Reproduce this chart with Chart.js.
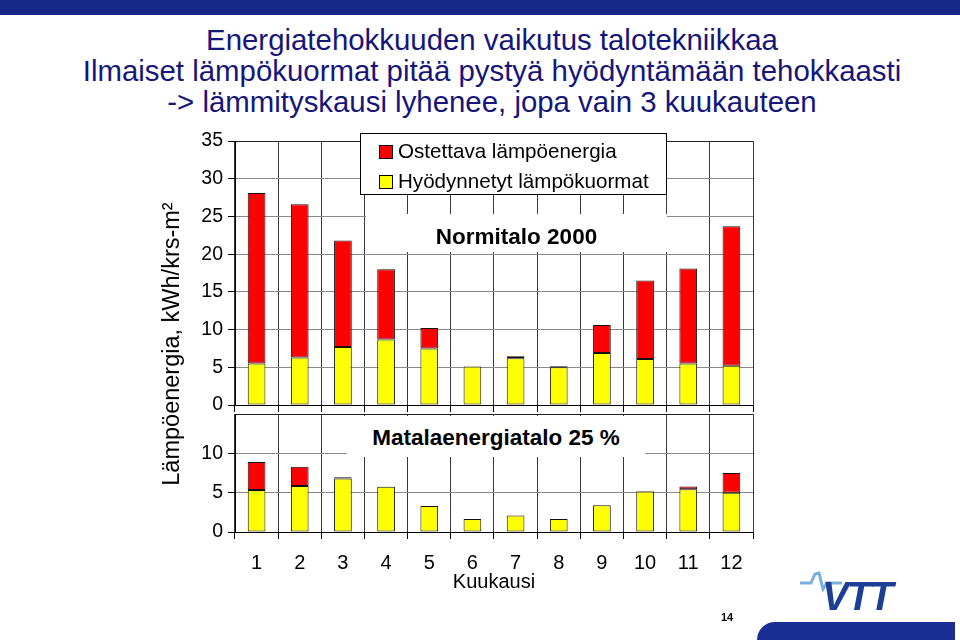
<!DOCTYPE html>
<html lang="fi">
<head>
<meta charset="utf-8">
<title>Energiatehokkuuden vaikutus talotekniikkaa</title>
<script src="https://cdn.jsdelivr.net/npm/chart.js@4.4.1/dist/chart.umd.min.js"></script>
<style>
  html, body { margin: 0; padding: 0; background: #fff; }
  body {
    width: 960px; height: 640px; position: relative; overflow: hidden;
    font-family: "Liberation Sans", Arial, sans-serif;
  }
  canvas { position: absolute; left: 0; top: 0; }
  .ylakaista { position: absolute; left: 0; top: 0; width: 960px; height: 15px; background: #172788; }
  .otsikko {
    position: absolute; left: 0; top: 24px; width: 984px;
    text-align: center; color: #16167a; font-size: 29.4px; line-height: 31px;
  }
  .akseli-y {
    position: absolute; left: -29px; top: 331px; width: 400px; height: 26px;
    line-height: 26px; text-align: center; font-size: 23.5px; color: #000;
    transform: rotate(-90deg);
  }
  .selite {
    position: absolute; left: 360px; top: 133px; width: 305px; height: 60px;
    border: 1px solid #000; background: #fff; font-size: 20.6px; color: #000;
  }
  .selite div { position: absolute; left: 18px; height: 24px; line-height: 24px; white-space: nowrap; }
  .selite span {
    display: inline-block; width: 12px; height: 12px; border: 1px solid #000;
    margin-right: 5px; vertical-align: -1px;
  }
  .nimi {
    position: absolute; background: #fff; text-align: center;
    font-weight: bold; font-size: 22.5px; color: #000;
  }
  .sivu { position: absolute; left: 721px; top: 611px; font-size: 11px; font-weight: bold; }
  .vtt {
    position: absolute; left: 822px; top: 574px; font-size: 40px; font-weight: bold;
    font-style: italic; color: #1c3f96; letter-spacing: -2px;
  }
  .alakaista {
    position: absolute; left: 757px; top: 622px; width: 198px; height: 18px;
    background: #1a2d94; border-top-left-radius: 18px;
  }
</style>
</head>
<body>
<div class="ylakaista"></div>
<div class="otsikko">
  Energiatehokkuuden vaikutus talotekniikkaa<br>
  Ilmaiset lämpökuormat pitää pystyä hyödyntämään tehokkaasti<br>
  -&gt; lämmityskausi lyhenee, jopa vain 3 kuukauteen
</div>

<canvas id="normitalo" width="960" height="640"></canvas>
<canvas id="matalaenergia" width="960" height="640"></canvas>

<div class="akseli-y">Lämpöenergia, kWh/krs-m²</div>

<div class="selite">
  <div style="top:5px"><span style="background:#ff0000"></span>Ostettava lämpöenergia</div>
  <div style="top:35px"><span style="background:#ffff00"></span>Hyödynnetyt lämpökuormat</div>
</div>

<div class="nimi" style="left:366px; top:214px; width:301px; height:38px; line-height:46px;">Normitalo 2000</div>
<div class="nimi" style="left:347px; top:416px; width:298px; height:41px; line-height:44px;">Matalaenergiatalo 25 %</div>

<div class="sivu">14</div>
<svg style="position:absolute; left:798px; top:568px" width="50" height="28">
  <polyline points="2,15 13,15 17,6 21,5 25,21 29,15 44,15" fill="none" stroke="#7aaee0" stroke-width="3"/>
</svg>
<div class="vtt">VTT</div>
<div class="alakaista"></div>

<script>
// Kuukaudet x-akselilla
const kuukaudet = ['1', '2', '3', '4', '5', '6', '7', '8', '9', '10', '11', '12'];

// Normitalo 2000, kWh/krs-m2 (luettu kuvasta)
const normiHyodynnetyt = [5.5, 6.3, 7.7, 8.7, 7.5, 5.1, 6.2, 5.0, 6.9, 6.1, 5.5, 5.2];
const normiOstettava   = [22.6, 20.3, 14.1, 9.3, 2.7, 0, 0.27, 0.13, 3.7, 10.4, 12.6, 18.5];

// Matalaenergiatalo 25 %
const matalaHyodynnetyt = [5.35, 5.85, 6.8, 5.75, 3.3, 1.65, 2.1, 1.65, 3.4, 5.15, 5.45, 5.0];
const matalaOstettava   = [3.55, 2.45, 0.17, 0, 0, 0, 0, 0, 0, 0.05, 0.33, 2.5];

// y-akselien jakovälit
const normiMax = 35;
const matalaMax = 15;
const jakovali = 5;

const KELTAINEN = '#ffff00';
const PUNAINEN = '#ff0000';
const FONTTI = 'Liberation Sans';

function teeKaavio(id, hyodynnetyt, ostettava, asetukset) {
  const pylvas = {
    borderColor: '#111',
    borderWidth: 1,
    borderSkipped: false,
    barPercentage: 0.41,
    categoryPercentage: 1
  };

  return new Chart(document.getElementById(id), {
    type: 'bar',
    data: {
      labels: kuukaudet,
      datasets: [
        Object.assign({ label: 'Hyödynnetyt lämpökuormat', data: hyodynnetyt, backgroundColor: KELTAINEN }, pylvas),
        Object.assign({ label: 'Ostettava lämpöenergia', data: ostettava, backgroundColor: PUNAINEN }, pylvas)
      ]
    },
    options: {
      responsive: false,
      animation: false,
      events: [],
      layout: { padding: asetukset.padding },
      plugins: {
        legend: { display: false },
        tooltip: { enabled: false }
      },
      scales: {
        x: {
          stacked: true,
          grid: { offset: true, color: '#3a3a3a', tickLength: 7, tickColor: '#000' },
          border: { color: '#000' },
          ticks: {
            display: asetukset.xNimet,
            color: '#000',
            padding: 12,
            maxRotation: 0,
            font: { family: FONTTI, size: 20 }
          },
          title: {
            display: asetukset.xNimet,
            text: 'Kuukausi',
            color: '#000',
            padding: { top: 0, bottom: 0 },
            font: { family: FONTTI, size: 20 }
          },
          afterFit: s => { s.height = asetukset.xKorkeus; }
        },
        y: {
          stacked: true,
          min: 0,
          max: asetukset.max,
          ticks: {
            stepSize: jakovali,
            color: '#000',
            padding: 5,
            font: { family: FONTTI, size: 19.5 },
            callback: v => (asetukset.piilotaYlin && v === asetukset.max) ? '' : v
          },
          grid: {
            tickLength: 7,
            color: c => c.tick && c.tick.value === asetukset.max ? '#222' : '#8a8a8a',
            tickColor: c => (asetukset.piilotaYlin && c.tick && c.tick.value === asetukset.max) ? 'rgba(0,0,0,0)' : '#000'
          },
          border: { color: '#000' },
          afterFit: s => { s.width = 50; }
        }
      }
    }
  });
}

// Yläkaavio: Normitalo 2000
teeKaavio('normitalo', normiHyodynnetyt, normiOstettava, {
  max: normiMax,
  padding: { left: 185, right: 207, top: 141, bottom: 225 },
  xNimet: false,
  xKorkeus: 10,
  piilotaYlin: false
});

// Alakaavio: Matalaenergiatalo 25 %
teeKaavio('matalaenergia', matalaHyodynnetyt, matalaOstettava, {
  max: matalaMax,
  padding: { left: 185, right: 207, top: 414, bottom: 46 },
  xNimet: true,
  xKorkeus: 62,
  piilotaYlin: true
});
</script>
</body>
</html>
